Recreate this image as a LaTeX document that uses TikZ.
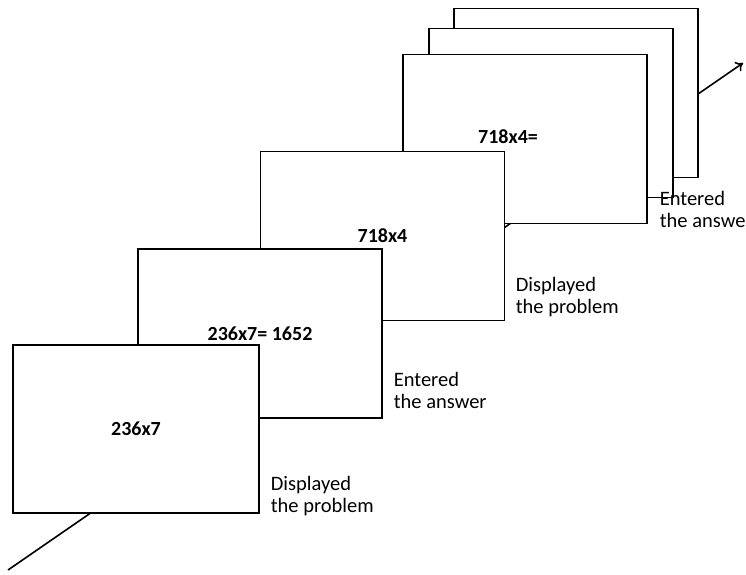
\documentclass[tikz,border=0pt]{standalone}
\usepackage{fontspec}
\setmainfont{Carlito}
\usetikzlibrary{arrows.meta}
\begin{document}
\begin{tikzpicture}[x=1pt, y=-1pt, line width=1.6pt,
    frame/.style={draw, fill=white, minimum width=244pt, minimum height=169pt,
      inner sep=0pt, font=\bfseries\fontsize{20}{24}\selectfont},
    step label/.style={anchor=base west, align=left, inner sep=0pt,
      font=\fontsize{20.5}{22}\selectfont}]
  \useasboundingbox (0,0) rectangle (746,574);
  % time line running behind the whole stack
  \coordinate (start) at (8,570);
  \coordinate (end) at (743,63);
  \draw[-{To[length=7pt,width=11pt]}] (start) -- (end);
  % screens, back to front
  \node[frame] (f6) at (576,93) {};
  \node[frame] (f5) at (551,113) {};
  \node[frame] (f4) at (525,139) {};
  \node[font=\bfseries\fontsize{20}{24}\selectfont] (t4) at (508,137) {718x4=};
  \node[frame] (f3) at (382.5,236) {718x4};
  \node[frame] (f2) at (260,333.5) {236x7= 1652};
  \node[frame, minimum width=246pt, minimum height=168pt] (f1) at (136,429) {236x7};
  % what happened at each screen
  \node[step label] (l1) at (270,512) {Displayed\\the problem};
  \node[step label] (l2) at (393,408) {Entered\\the answer};
  \node[step label] (l3) at (515,313) {Displayed\\the problem};
  \node[step label] (l4) at (659,227) {Entered\\the answer};
\end{tikzpicture}
\end{document}
